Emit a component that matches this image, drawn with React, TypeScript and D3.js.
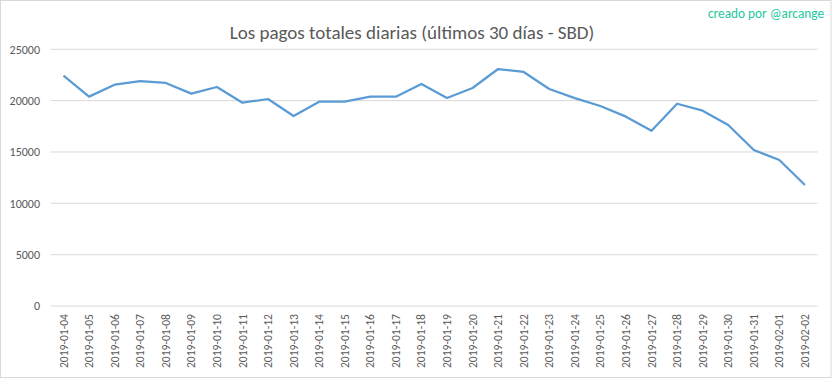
import React from "react";
import * as d3 from "d3";

const dates = [
  "2019-01-04", "2019-01-05", "2019-01-06", "2019-01-07", "2019-01-08",
  "2019-01-09", "2019-01-10", "2019-01-11", "2019-01-12", "2019-01-13",
  "2019-01-14", "2019-01-15", "2019-01-16", "2019-01-17", "2019-01-18",
  "2019-01-19", "2019-01-20", "2019-01-21", "2019-01-22", "2019-01-23",
  "2019-01-24", "2019-01-25", "2019-01-26", "2019-01-27", "2019-01-28",
  "2019-01-29", "2019-01-30", "2019-01-31", "2019-02-01", "2019-02-02",
];

const payouts = [
  22430, 20390, 21550, 21910, 21720, 20680, 21330, 19800, 20160, 18500,
  19900, 19900, 20390, 20390, 21620, 20260, 21230, 23080, 22790, 21130,
  20250, 19480, 18440, 17070, 19700, 19020, 17630, 15190, 14220, 11780,
];

const yTicks = [0, 5000, 10000, 15000, 20000, 25000];

const W = 833;
const H = 379;
const M = { left: 50.7, right: 817.7, top: 49.3, bottom: 306 };
const FONT = "Carlito, Calibri, 'Open Sans', 'Liberation Sans', sans-serif";

export default function App() {
  const x = d3.scaleBand<string>().domain(dates).range([M.left, M.right]);
  const y = d3.scaleLinear().domain([0, 25000]).range([M.bottom, M.top]);
  const line = d3
    .line<number>()
    .x((_, i) => (x(dates[i]) as number) + x.bandwidth() / 2)
    .y((d) => y(d));

  return (
    <svg
      width={W}
      height={H}
      style={{ position: "absolute", left: 0, top: 0, background: "#fff" }}
      fontFamily={FONT}
    >
      <rect x={0.5} y={0.5} width={W - 2.5} height={H - 2} fill="#fff" stroke="#d9d9d9" strokeWidth={1} />
      <text x={412} y={39} textAnchor="middle" fontSize={19} fill="#595959" fontWeight={300}>
        Los pagos totales diarias (últimos 30 días - SBD)
      </text>
      <text x={824} y={18} textAnchor="end" fontSize={13.3} fill="#1ec8a0">
        creado por @arcange
      </text>
      {yTicks.map((t) => (
        <g key={t}>
          <line x1={M.left} x2={M.right} y1={y(t)} y2={y(t)} stroke="#d9d9d9" strokeWidth={1} />
          <text x={40} y={y(t)} dy="0.35em" textAnchor="end" fontSize={12} fill="#595959">
            {t}
          </text>
        </g>
      ))}
      {dates.map((d) => {
        const cx = (x(d) as number) + x.bandwidth() / 2;
        return (
          <text
            key={d}
            transform={`translate(${cx},${314}) rotate(-90)`}
            textAnchor="end"
            dy="0.35em"
            fontSize={11.6}
            fill="#595959"
          >
            {d}
          </text>
        );
      })}
      <path d={line(payouts) || ""} fill="none" stroke="#5b9bd5" strokeWidth={2.25} strokeLinejoin="round" />
    </svg>
  );
}
